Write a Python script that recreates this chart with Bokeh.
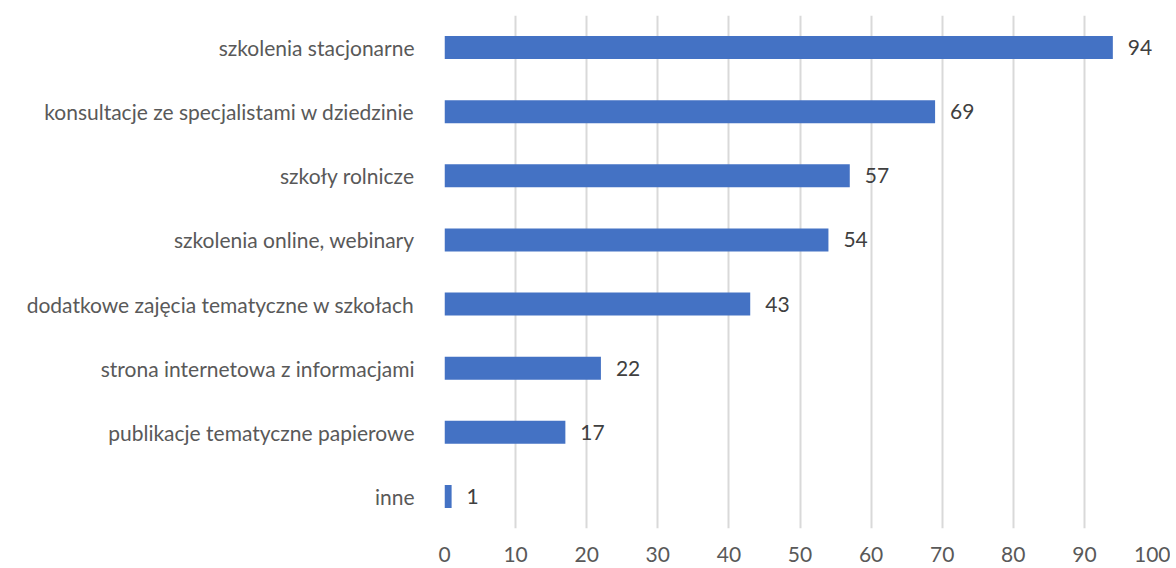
from bokeh.plotting import figure
from bokeh.models import ColumnDataSource, FixedTicker, FactorRange, Range1d
from bokeh.core.properties import value
from bokeh.embed import file_html
from bokeh.resources import INLINE

categories = [
    "szkolenia stacjonarne",
    "konsultacje ze specjalistami w dziedzinie",
    "szkoły rolnicze",
    "szkolenia online, webinary",
    "dodatkowe zajęcia tematyczne w szkołach",
    "strona internetowa z informacjami",
    "publikacje tematyczne papierowe",
    "inne",
]
values = [94, 69, 57, 54, 43, 22, 17, 1]
x_ticks = [0, 10, 20, 30, 40, 50, 60, 70, 80, 90, 100]

FONT = "Lato"
FS = "21px"

src = ColumnDataSource(dict(cat=categories, val=values, lbl=[str(v) for v in values]))

p = figure(
    width=1170, height=566,
    y_range=FactorRange(factors=list(reversed(categories))),
    x_range=Range1d(0, 100),
    output_backend="svg", toolbar_location=None,
    min_border_left=444, min_border_right=15, min_border_top=15, min_border_bottom=38,
)
p.outline_line_color = None
p.background_fill_color = "white"
p.border_fill_color = "white"

p.hbar(y="cat", right="val", left=0, height=0.36, source=src,
       fill_color="#4472C4", line_color=None)

p.text(x="val", y="cat", text="lbl", source=src, x_offset=15,
       text_baseline="middle", text_align="left",
       text_font=value(FONT), text_font_size=FS, text_color="#404040")

p.xaxis.ticker = FixedTicker(ticks=x_ticks)
p.xgrid.ticker = FixedTicker(ticks=x_ticks)
p.xgrid.grid_line_color = "#d9d9d9"
p.xgrid.grid_line_width = 2
p.ygrid.grid_line_color = None

for ax in (p.xaxis, p.yaxis):
    ax.axis_line_color = None
    ax.major_tick_line_color = None
    ax.minor_tick_line_color = None
    ax.major_label_text_font = FONT
    ax.major_label_text_font_size = FS
    ax.major_label_text_color = "#595959"

p.yaxis.major_label_standoff = 24
p.xaxis.major_label_standoff = 12

open("out.html", "w").write(file_html(p, INLINE))
